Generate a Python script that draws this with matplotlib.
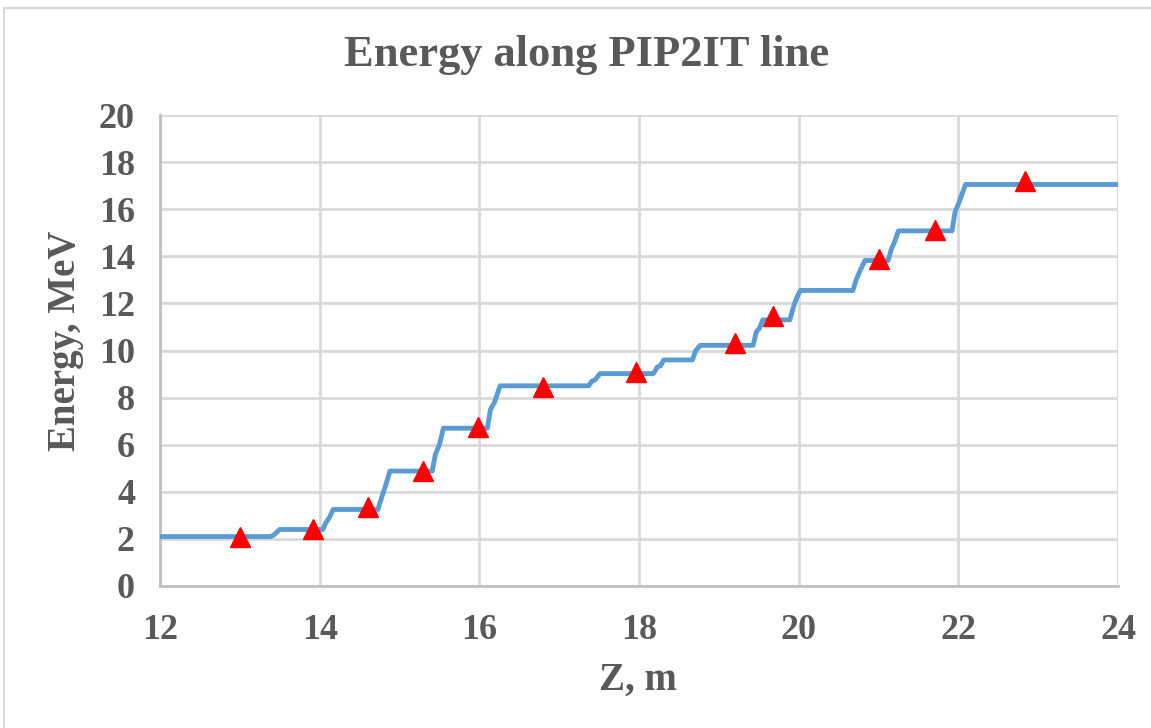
import matplotlib
matplotlib.use("Agg")
import matplotlib.pyplot as plt
from matplotlib.patches import Rectangle

# Simulated energy profile (step-like)
z_line = [12.0, 13.38, 13.42, 13.50, 14.04, 14.08, 14.12, 14.17,
          14.73, 14.78, 14.82, 14.88, 15.41, 15.45, 15.50, 15.55,
          16.10, 16.14, 16.19, 16.26, 17.37, 17.41, 17.45, 17.51,
          18.18, 18.23, 18.27, 18.31, 18.67, 18.71, 18.77,
          19.43, 19.47, 19.51, 19.55, 19.89, 19.93, 19.97, 20.02,
          20.68, 20.72, 20.77, 20.83, 21.12, 21.16, 21.20, 21.25,
          21.92, 21.96, 22.01, 22.09, 24.0]
E_line = [2.1, 2.1, 2.15, 2.4, 2.4, 2.7, 2.9, 3.25,
          3.25, 3.8, 4.2, 4.88, 4.88, 5.6, 6.0, 6.7,
          6.7, 7.5, 7.8, 8.5, 8.5, 8.7, 8.75, 9.02,
          9.02, 9.3, 9.35, 9.6, 9.6, 10.0, 10.22,
          10.22, 10.8, 10.95, 11.3, 11.3, 11.8, 12.2, 12.55,
          12.55, 13.0, 13.4, 13.82, 13.82, 14.3, 14.6, 15.08,
          15.08, 15.9, 16.3, 17.05, 17.05]

# Measured points (triangles)
z_meas = [13.0, 13.92, 14.6, 15.29, 15.98, 16.8, 17.96, 19.2, 19.68, 21.0, 21.71, 22.83]
E_meas = [2.1, 2.4, 3.35, 4.9, 6.75, 8.45, 9.1, 10.3, 11.45, 13.88, 15.12, 17.18]

x_ticks = [12, 14, 16, 18, 20, 22, 24]
y_ticks = [0, 2, 4, 6, 8, 10, 12, 14, 16, 18, 20]

txt = "#595959"
grid = "#D9D9D9"
font = "Liberation Serif"
W, H = 1151, 728

fig = plt.figure(figsize=(W / 100, H / 100), dpi=100)
fig.patch.set_facecolor("white")
fig.patches.append(Rectangle((4 / W, -0.1), 1.2, 1 - 8 / H + 0.1,
                             transform=fig.transFigure, fill=False,
                             edgecolor=grid, linewidth=1.5))

ax = fig.add_axes([160 / W, 1 - 586 / H, (1118 - 160) / W, (586 - 115) / H])
ax.set_xlim(12, 24)
ax.set_ylim(0, 20)
ax.set_xticks(x_ticks)
ax.set_yticks(y_ticks)
ax.grid(True, color=grid, linewidth=2)
ax.set_axisbelow(True)
for s in ["top", "right"]:
    ax.spines[s].set_visible(False)
for s in ["left", "bottom"]:
    ax.spines[s].set_color("#BFBFBF")
    ax.spines[s].set_linewidth(2)
ax.tick_params(axis="x", length=0, pad=20, colors=txt)
ax.tick_params(axis="y", length=0, pad=18, colors=txt)
for lab in ax.get_xticklabels() + ax.get_yticklabels():
    lab.set_fontfamily(font)
    lab.set_fontweight("bold")
    lab.set_fontsize(26)
    lab.set_color(txt)

ax.plot(z_line, E_line, color="#5B9BD5", linewidth=3.5, solid_joinstyle="round", zorder=3)
ax.plot(z_meas, E_meas, linestyle="none", marker="^", markersize=15,
        color="#FF0000", zorder=4, clip_on=False)

fig.text(638 / W, 1 - 680 / H, "Z, m", family=font, fontweight="bold",
         fontsize=28, color=txt, ha="center", va="center")
fig.text(66 / W, 1 - 341 / H, "Energy, MeV", family=font, fontweight="bold",
         fontsize=28, color=txt, ha="center", va="center", rotation=90)
fig.text(587 / W, 1 - 55 / H, "Energy along PIP2IT line",
         family=font, fontweight="bold", fontsize=32, color=txt,
         ha="center", va="center")

fig.savefig("out.png", dpi=100, facecolor="white")
